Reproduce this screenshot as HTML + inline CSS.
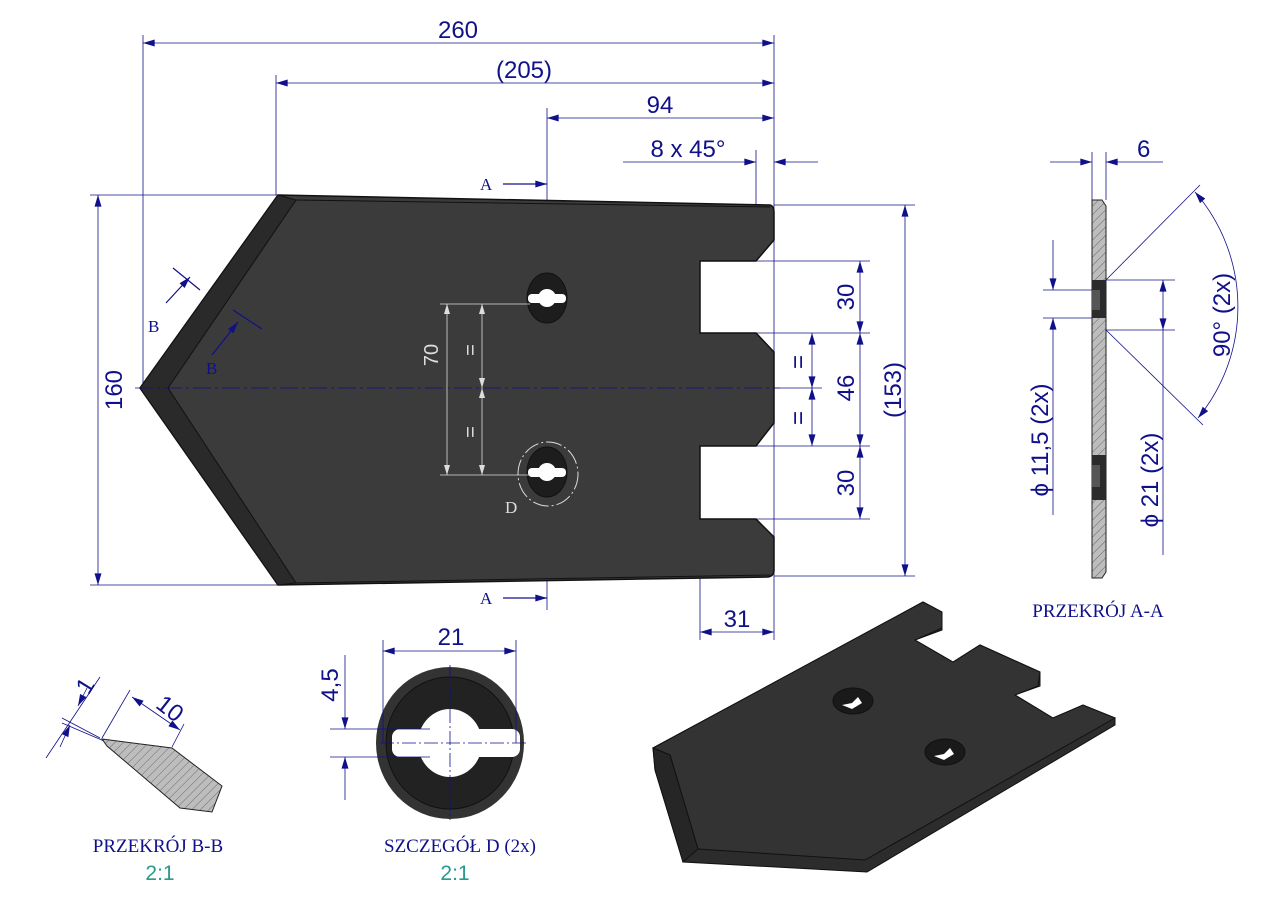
<!DOCTYPE html>
<html><head><meta charset="utf-8"><style>html,body{margin:0;padding:0;background:#fff}svg{display:block}</style></head>
<body>
<svg width="1280" height="905" viewBox="0 0 1280 905" xmlns="http://www.w3.org/2000/svg" font-family="Liberation Sans, sans-serif">
<defs>
<marker id="a" viewBox="0 0 10 6" refX="10" refY="3" markerWidth="14" markerHeight="7" markerUnits="userSpaceOnUse" orient="auto-start-reverse"><path d="M0,0L10,3L0,6z" fill="#10108a"/></marker>
<marker id="w" viewBox="0 0 10 6" refX="10" refY="3" markerWidth="12" markerHeight="6" markerUnits="userSpaceOnUse" orient="auto-start-reverse"><path d="M0,0L10,3L0,6z" fill="#ddd"/></marker>
<pattern id="h" width="6" height="6" patternUnits="userSpaceOnUse" patternTransform="rotate(45)"><rect width="6" height="6" fill="#bdbdbd"/><line x1="0" y1="0" x2="0" y2="6" stroke="#555" stroke-width="0.8"/></pattern>
</defs>
<g stroke="#10108a" stroke-width="0.8" fill="none">
<line x1="143" y1="35" x2="143" y2="388"/>
<line x1="774" y1="35" x2="774" y2="640"/>
<line x1="276" y1="75" x2="276" y2="195"/>
<line x1="547" y1="108" x2="547" y2="610"/>
<line x1="756" y1="150" x2="756" y2="260"/>
<line x1="700" y1="519" x2="700" y2="640"/>
<line x1="90" y1="195" x2="278" y2="195"/>
<line x1="90" y1="585" x2="278" y2="585"/>
<line x1="774" y1="205" x2="915" y2="205"/>
<line x1="774" y1="576" x2="915" y2="576"/>
<line x1="756" y1="261" x2="870" y2="261"/>
<line x1="756" y1="333" x2="870" y2="333"/>
<line x1="756" y1="446" x2="870" y2="446"/>
<line x1="756" y1="519" x2="870" y2="519"/>
<line x1="774" y1="388" x2="822" y2="388"/>
<line x1="143" y1="43" x2="774" y2="43" marker-start="url(#a)" marker-end="url(#a)"/>
<line x1="276" y1="83" x2="774" y2="83" marker-start="url(#a)" marker-end="url(#a)"/>
<line x1="547" y1="118" x2="774" y2="118" marker-start="url(#a)" marker-end="url(#a)"/>
<line x1="623" y1="162" x2="756" y2="162" marker-end="url(#a)"/>
<line x1="818" y1="162" x2="774" y2="162" marker-end="url(#a)"/>
<line x1="98" y1="195" x2="98" y2="585" marker-start="url(#a)" marker-end="url(#a)"/>
<line x1="905" y1="205" x2="905" y2="576" marker-start="url(#a)" marker-end="url(#a)"/>
<line x1="860" y1="261" x2="860" y2="333" marker-start="url(#a)" marker-end="url(#a)"/>
<line x1="860" y1="333" x2="860" y2="446" marker-start="url(#a)" marker-end="url(#a)"/>
<line x1="860" y1="446" x2="860" y2="519" marker-start="url(#a)" marker-end="url(#a)"/>
<line x1="812" y1="333" x2="812" y2="388" marker-start="url(#a)" marker-end="url(#a)"/>
<line x1="812" y1="388" x2="812" y2="446" marker-start="url(#a)" marker-end="url(#a)"/>
<line x1="700" y1="632" x2="774" y2="632" marker-start="url(#a)" marker-end="url(#a)"/>
</g>
<path d="M278,195 L770,205 Q774,206 774,212 L774,240 L756,261 L700,261 L700,333 L756,333 L774,352 L774,423 L756,446 L700,446 L700,519 L756,519 L774,537 L774,570 Q774,576 768,577 L278,585 L140,388 Z" fill="#3b3b3b" stroke="#111" stroke-width="1.5"/>
<path d="M278,195 L296,200 L168,388 L296,583 L278,585 L140,388 Z" fill="#2a2a2a" stroke="#111" stroke-width="1"/>
<line x1="296" y1="200" x2="770" y2="207" stroke="#111"/>
<line x1="296" y1="583" x2="770" y2="575" stroke="#111"/>
<line x1="135" y1="388" x2="780" y2="388" stroke="#10108a" stroke-width="0.8" stroke-dasharray="18,4,3,4"/>
<ellipse cx="547" cy="298" rx="20" ry="25" fill="#1d1d1d" stroke="#111"/>
<rect x="528" y="294" width="38" height="9" rx="4" fill="#fff"/><circle cx="547" cy="298" r="9" fill="#fff"/>
<ellipse cx="547" cy="472" rx="20" ry="25" fill="#1d1d1d" stroke="#111"/>
<rect x="528" y="468" width="38" height="9" rx="4" fill="#fff"/><circle cx="547" cy="472" r="9" fill="#fff"/>
<ellipse cx="548" cy="474" rx="30" ry="32" fill="none" stroke="#ddd" stroke-dasharray="16,3,2,3"/>
<g stroke="#ddd" stroke-width="0.8" fill="none">
<line x1="440" y1="304" x2="530" y2="304"/><line x1="440" y1="475" x2="530" y2="475"/>
<line x1="447" y1="304" x2="447" y2="475" marker-start="url(#w)" marker-end="url(#w)"/>
<line x1="482" y1="304" x2="482" y2="388" marker-start="url(#w)" marker-end="url(#w)"/>
<line x1="482" y1="388" x2="482" y2="475" marker-start="url(#w)" marker-end="url(#w)"/>
</g>
<g fill="#ddd" font-size="20"><text transform="translate(438,355) rotate(-90)" text-anchor="middle">70</text>
<text transform="translate(477,350) rotate(-90)" text-anchor="middle">=</text><text transform="translate(477,432) rotate(-90)" text-anchor="middle">=</text></g>
<text x="505" y="513" fill="#ddd" font-family="Liberation Serif, serif" font-size="17">D</text>
<g stroke="#10108a" stroke-width="1.2" fill="none">
<line x1="503" y1="184" x2="547" y2="184" marker-end="url(#a)"/>
<line x1="503" y1="598" x2="547" y2="598" marker-end="url(#a)"/>
<line x1="166" y1="303" x2="190" y2="277" marker-end="url(#a)"/>
<line x1="212" y1="355" x2="238" y2="322" marker-end="url(#a)"/>
<line x1="173" y1="268" x2="200" y2="290"/>
<line x1="233" y1="310" x2="262" y2="329"/>
</g>
<g fill="#10108a" font-family="Liberation Serif, serif" font-size="17">
<text x="480" y="190">A</text><text x="480" y="604">A</text>
<text x="148" y="332">B</text><text x="206" y="374">B</text>
</g>
<g fill="#10108a" font-size="24">
<text x="458" y="38" text-anchor="middle">260</text>
<text x="524" y="78" text-anchor="middle">(205)</text>
<text x="660" y="113" text-anchor="middle">94</text>
<text x="688" y="157" text-anchor="middle">8 x 45°</text>
<text transform="translate(122,390) rotate(-90)" text-anchor="middle">160</text>
<text transform="translate(901,390) rotate(-90)" text-anchor="middle">(153)</text>
<text transform="translate(854,297) rotate(-90)" text-anchor="middle">30</text>
<text transform="translate(854,388) rotate(-90)" text-anchor="middle">46</text>
<text transform="translate(854,483) rotate(-90)" text-anchor="middle">30</text>
<text transform="translate(806,362) rotate(-90)" text-anchor="middle">=</text>
<text transform="translate(806,418) rotate(-90)" text-anchor="middle">=</text>
<text x="737" y="627" text-anchor="middle">31</text>
</g>
<path d="M1092,200 L1102,200 L1106,206 L1106,572 L1102,578 L1092,578 Z" fill="url(#h)" stroke="#222"/>
<path d="M1092,280 L1106,280 L1106,318 L1092,318 Z" fill="#2b2b2b"/>
<path d="M1092,455 L1106,455 L1106,500 L1092,500 Z" fill="#2b2b2b"/>
<path d="M1092,290 L1100,290 L1100,310 L1092,310Z M1092,465 L1100,465 L1100,487 L1092,487Z" fill="#555"/>
<g stroke="#10108a" stroke-width="0.8" fill="none">
<line x1="1092" y1="152" x2="1092" y2="200"/><line x1="1106" y1="152" x2="1106" y2="200"/>
<line x1="1050" y1="162" x2="1092" y2="162" marker-end="url(#a)"/>
<line x1="1163" y1="162" x2="1106" y2="162" marker-end="url(#a)"/>
<line x1="1043" y1="290" x2="1092" y2="290"/><line x1="1043" y1="318" x2="1092" y2="318"/>
<line x1="1053" y1="240" x2="1053" y2="290" marker-end="url(#a)"/>
<line x1="1053" y1="515" x2="1053" y2="318" marker-end="url(#a)"/>
<line x1="1106" y1="280" x2="1175" y2="280"/><line x1="1106" y1="330" x2="1175" y2="330"/>
<line x1="1163" y1="280" x2="1163" y2="330" marker-start="url(#a)" marker-end="url(#a)"/>
<line x1="1163" y1="330" x2="1163" y2="555"/>
<line x1="1106" y1="280" x2="1200" y2="185"/><line x1="1106" y1="330" x2="1203" y2="425"/>
<path d="M1195,192 A175,175 0 0 1 1198,418" marker-start="url(#a)" marker-end="url(#a)"/>
</g>
<g fill="#10108a" font-size="24">
<text x="1137" y="157">6</text>
<text transform="translate(1048,440) rotate(-90)" text-anchor="middle">ϕ 11,5  (2x)</text>
<text transform="translate(1158,480) rotate(-90)" text-anchor="middle">ϕ 21  (2x)</text>
<text transform="translate(1230,315) rotate(-90)" text-anchor="middle">90°  (2x)</text>
</g>
<text x="1098" y="617" fill="#10108a" font-family="Liberation Serif, serif" font-size="19" text-anchor="middle">PRZEKRÓJ A-A</text>
<path d="M102,739 L172,748 L222,786 L212,812 L180,808 L107,746 Z" fill="url(#h)" stroke="#222"/>
<g stroke="#10108a" stroke-width="0.8" fill="none">
<line x1="46" y1="758" x2="100" y2="677"/><line x1="100" y1="738" x2="62" y2="718"/><line x1="104" y1="741" x2="62" y2="723"/>
<line x1="60" y1="747" x2="70" y2="725" marker-end="url(#a)"/><line x1="87" y1="688" x2="78" y2="706" marker-end="url(#a)"/>
<line x1="102" y1="738" x2="130" y2="690"/><line x1="172" y1="747" x2="184" y2="724"/>
<line x1="132" y1="697" x2="180" y2="730" marker-start="url(#a)" marker-end="url(#a)"/>
</g>
<g fill="#10108a" font-size="24">
<text transform="translate(92,690) rotate(-58)" text-anchor="middle">1</text>
<text transform="translate(165,715) rotate(38)" text-anchor="middle">10</text>
</g>
<text x="158" y="852" fill="#10108a" font-family="Liberation Serif, serif" font-size="19" text-anchor="middle">PRZEKRÓJ B-B</text>
<text x="160" y="880" fill="#2a9a8a" font-size="21" text-anchor="middle">2:1</text>
<ellipse cx="450" cy="743" rx="74" ry="76" fill="#333"/>
<ellipse cx="450" cy="743" rx="64" ry="66" fill="#222" stroke="#111"/>
<rect x="392" y="729" width="128" height="28" rx="8" fill="#fff"/>
<ellipse cx="450" cy="743" rx="32" ry="34" fill="#fff"/>
<g stroke="#10108a" stroke-width="0.8" fill="none">
<line x1="383" y1="640" x2="383" y2="743"/><line x1="516" y1="640" x2="516" y2="743"/>
<line x1="383" y1="651" x2="516" y2="651" marker-start="url(#a)" marker-end="url(#a)"/>
<line x1="330" y1="729" x2="430" y2="729"/><line x1="330" y1="757" x2="430" y2="757"/>
<line x1="345" y1="655" x2="345" y2="729" marker-end="url(#a)"/>
<line x1="345" y1="800" x2="345" y2="757" marker-end="url(#a)"/>
<line x1="450" y1="665" x2="450" y2="820" stroke-dasharray="14,3,2,3"/>
<line x1="380" y1="743" x2="527" y2="743" stroke-dasharray="14,3,2,3"/>
</g>
<g fill="#10108a" font-size="24">
<text x="451" y="645" text-anchor="middle">21</text>
<text transform="translate(338,685) rotate(-90)" text-anchor="middle">4,5</text>
</g>
<text x="460" y="852" fill="#10108a" font-family="Liberation Serif, serif" font-size="19" text-anchor="middle">SZCZEGÓŁ D (2x)</text>
<text x="455" y="880" fill="#2a9a8a" font-size="21" text-anchor="middle">2:1</text>
<path d="M653,748 L923,602 L942,612 L942,630 L915,640 L953,662 L980,645 L1040,672 L1040,686 L1015,695 L1053,718 L1083,705 L1115,718 L1115,725 L867,872 L683,862 L655,770 Z" fill="#2c2c2c" stroke="#111"/>
<path d="M653,748 L923,602 L942,612 L942,628 L915,640 L953,662 L980,645 L1040,672 L1038,686 L1015,695 L1053,718 L1083,705 L1115,718 L865,860 L698,849 L670,755 Z" fill="#333" stroke="#111"/>
<path d="M653,748 L670,755 L698,849 L683,862 L655,770Z" fill="#262626" stroke="#111"/>
<ellipse cx="853" cy="701" rx="20" ry="13" fill="#1a1a1a" stroke="#111"/>
<path d="M842,705 L852,703 L858,697 L862,703 L852,709Z" fill="#fff"/>
<ellipse cx="945" cy="752" rx="20" ry="13" fill="#1a1a1a" stroke="#111"/>
<path d="M934,756 L944,754 L950,748 L954,754 L944,760Z" fill="#fff"/>
</svg>
</body></html>
